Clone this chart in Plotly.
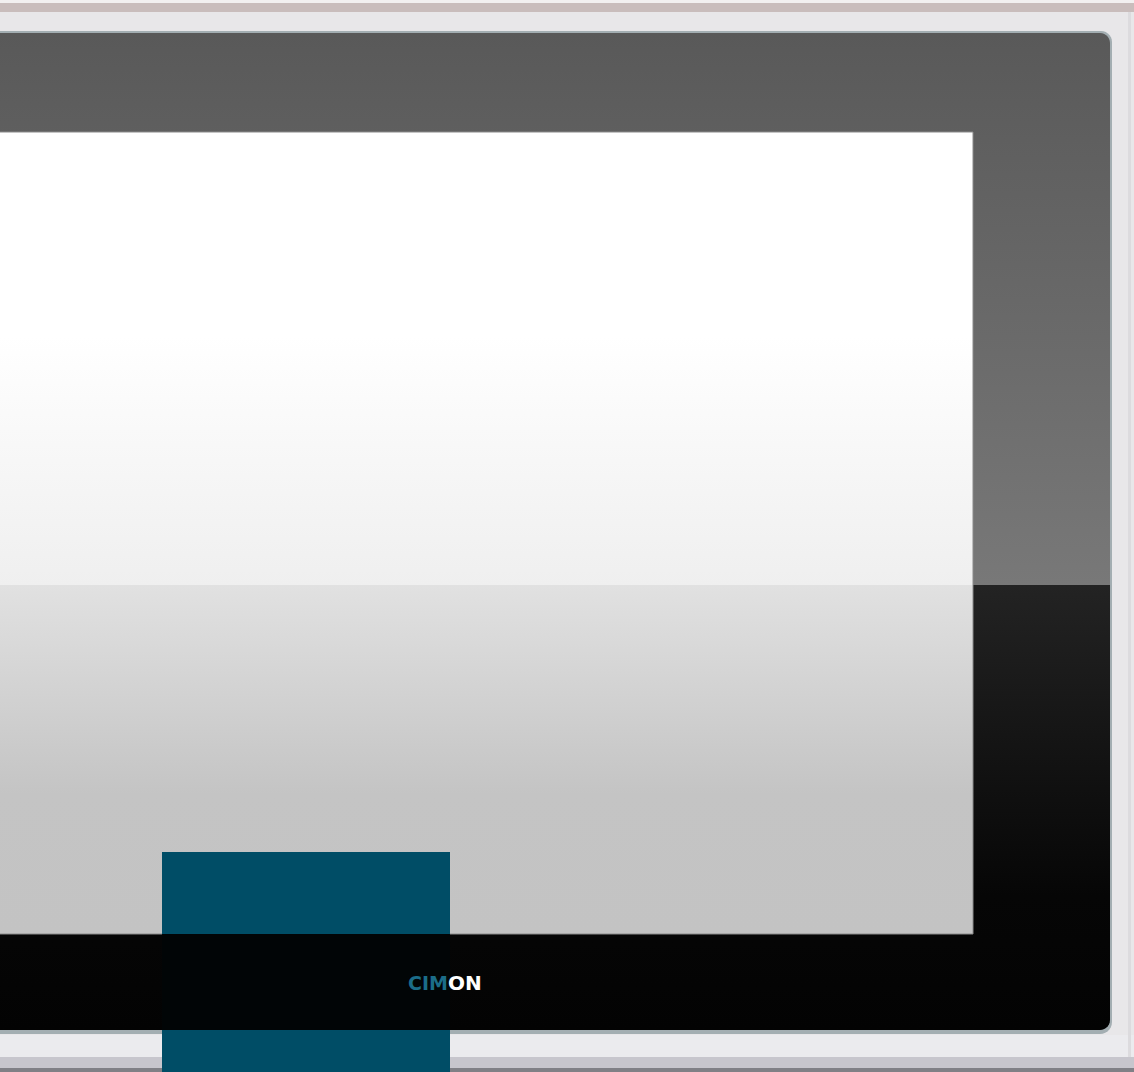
import numpy as np
import plotly.graph_objects as go

# ---- Data: panel regions (pixel extents in the photo coordinate system) ----
part_names = ["frame_upper", "frame_lower", "screen_upper", "screen_lower"]
part_x0 = [-5, -5, -5, -5]
part_x1 = [1110, 1110, 973, 973]
part_y0 = [33, 585, 132, 585]
part_y1 = [585, 1030, 585, 934]

badge_x = [162, 450]
badge_y = [852, 1072]

bezel_bands_y0 = [0, 3, 12, 1035, 1057, 1068]
bezel_bands_y1 = [3, 12, 1035, 1057, 1068, 1072]

logo_parts = ["CIM", "ON"]
logo_split_x = 448
logo_y = 983

W, H = 1134, 1072

# ---- styles ----
grad = {
    "frame_upper": [[0, "#595959"], [1, "#787878"]],
    "frame_lower": [[0, "#232323"], [0.7, "#060606"], [1, "#030303"]],
    "screen_upper": [[0, "#ffffff"], [0.45, "#ffffff"], [1, "#efefef"]],
    "screen_lower": [[0, "#e1e1e1"], [0.6, "#c4c4c4"], [1, "#c3c3c3"]],
}
band_colors = ["#f2f0f0", "#c9bdbc", "#e8e7e9", "#ebebee", "#c7c6cd", "#808086"]

fig = go.Figure()


def rounded_rect(x0, x1, y0, y1, r_tr=0, r_br=0):
    xs, ys = [x0], [y0]
    if r_tr:
        t = np.linspace(-np.pi / 2, 0, 8)
        xs += list(x1 - r_tr + r_tr * np.cos(t))
        ys += list(y0 + r_tr + r_tr * np.sin(t))
    else:
        xs.append(x1); ys.append(y0)
    if r_br:
        t = np.linspace(0, np.pi / 2, 8)
        xs += list(x1 - r_br + r_br * np.cos(t))
        ys += list(y1 - r_br + r_br * np.sin(t))
    else:
        xs.append(x1); ys.append(y1)
    xs += [x0, x0]
    ys += [y1, y0]
    return xs, ys


# bezel background bands
for y0, y1, c in zip(bezel_bands_y0, bezel_bands_y1, band_colors):
    fig.add_trace(go.Scatter(x=[-5, W + 5, W + 5, -5, -5], y=[y0, y0, y1, y1, y0],
                             fill="toself", fillcolor=c, mode="none", hoverinfo="skip"))

# right bezel edge shading
fig.add_trace(go.Scatter(x=[1128, 1131, 1131, 1128, 1128], y=[12, 12, 1057, 1057, 12],
                         fill="toself", fillcolor="#dcdbde", mode="none", hoverinfo="skip"))

# frame outline (thin bevel highlight)
ox, oy = rounded_rect(-5, 1112, 31, 1034, 11, 12)
fig.add_trace(go.Scatter(x=ox, y=oy, fill="toself", fillcolor="#a3aeb2", mode="none", hoverinfo="skip"))

# frame and screen regions with vertical gradients
for i, name in enumerate(part_names):
    rtr = 10 if name == "frame_upper" else 0
    rbr = 10 if name == "frame_lower" else 0
    xs, ys = rounded_rect(part_x0[i], part_x1[i], part_y0[i], part_y1[i], rtr, rbr)
    fig.add_trace(go.Scatter(
        x=xs, y=ys, fill="toself", mode="none", hoverinfo="skip",
        fillgradient=dict(type="vertical", colorscale=grad[name],
                          start=part_y0[i], stop=part_y1[i]),
    ))

# screen edge line
fig.add_trace(go.Scatter(x=[-5, 973, 973, -5], y=[132, 132, 934, 934],
                         mode="lines", line=dict(color="#8a8a8a", width=1), hoverinfo="skip"))

# teal badge (visible over screen and bezel, hidden by black frame)
segments = [(badge_y[0], 934, "#004d66"), (934, 1030, "#010506"), (1030, badge_y[1], "#004d66")]
for y0, y1, c in segments:
    fig.add_trace(go.Scatter(x=[badge_x[0], badge_x[1], badge_x[1], badge_x[0], badge_x[0]],
                             y=[y0, y0, y1, y1, y0], fill="toself", fillcolor=c,
                             mode="none", hoverinfo="skip"))

fig.add_annotation(x=logo_split_x + 1, y=logo_y, xref="x", yref="y", xanchor="right",
                   text="<b>" + logo_parts[0] + "</b>", showarrow=False, borderpad=0,
                   font=dict(family="DejaVu Sans", size=19, color="#1b6d89"))
fig.add_annotation(x=logo_split_x - 1, y=logo_y, xref="x", yref="y", xanchor="left",
                   text="<b>" + logo_parts[1] + "</b>", showarrow=False, borderpad=0,
                   font=dict(family="DejaVu Sans", size=20, color="#ffffff"))

fig.update_layout(
    width=W, height=H, margin=dict(l=0, r=0, t=0, b=0),
    paper_bgcolor="#ffffff", plot_bgcolor="#ffffff", showlegend=False,
    xaxis=dict(range=[0, W], visible=False, fixedrange=True),
    yaxis=dict(range=[H, 0], visible=False, fixedrange=True),
)
fig.write_html("out.html", config={"displayModeBar": False},
               post_script="document.body.style.margin='0';document.body.style.overflow='hidden';")
